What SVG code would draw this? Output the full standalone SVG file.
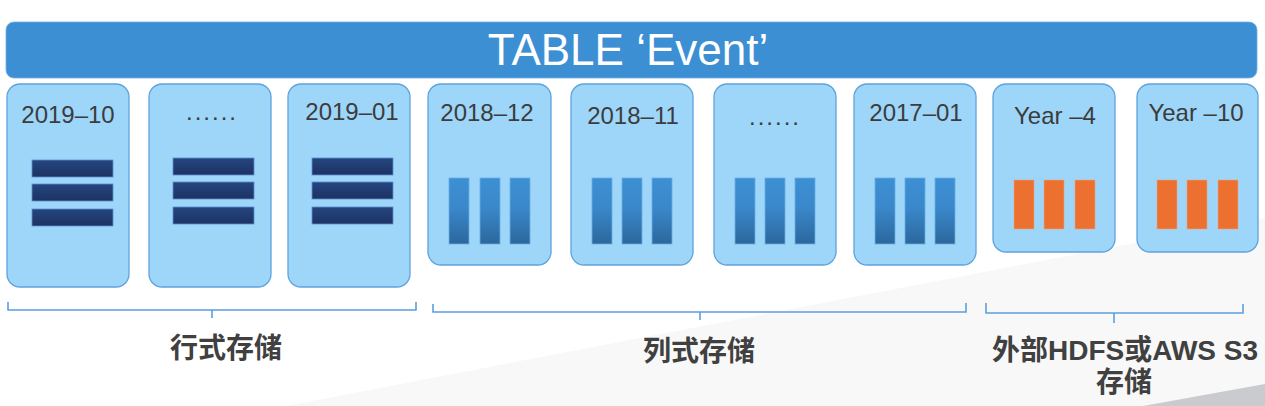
<svg xmlns="http://www.w3.org/2000/svg" width="1265" height="406" viewBox="0 0 1265 406">
<defs>
<linearGradient id="rowG" x1="0" y1="0" x2="0" y2="1"><stop offset="0" stop-color="#25467F"/><stop offset="1" stop-color="#1D3263"/></linearGradient>
<linearGradient id="colG" x1="0" y1="0" x2="0" y2="1"><stop offset="0" stop-color="#3D8FD3"/><stop offset="0.45" stop-color="#3A88CB"/><stop offset="1" stop-color="#2C679C"/></linearGradient>
<linearGradient id="dashG" x1="0" y1="0" x2="1" y2="0"><stop offset="0" stop-color="#D2E6F8"/><stop offset="1" stop-color="#6AAAE4"/></linearGradient>
<style>
.box{fill:#9DD6F9;stroke:#5FA2DC;stroke-width:1.3}
.lbl{font-family:"Liberation Sans",Arial,sans-serif;font-size:24px;fill:#3C3C3C;text-anchor:middle}
.dots{letter-spacing:2px}
.row{fill:url(#rowG);stroke:#5C8FD0;stroke-width:0.8}
.col{fill:url(#colG);stroke:#6AAEE3;stroke-width:0.8}
.ext{fill:#EC7030;stroke:#F2A27A;stroke-width:0.6}
.br{fill:none;stroke:#5B9FDD;stroke-width:1.6}
.cap{font-family:"Liberation Sans","Noto Sans CJK SC",sans-serif;font-size:28px;font-weight:bold;fill:#404040;text-anchor:middle}
</style>
</defs>
<rect width="1265" height="406" fill="#FFFFFF"/>
<polygon points="286,406 1265,218 1265,406" fill="#F8F8F8"/>
<polygon points="1143,406 1265,384 1265,406" fill="#C9CBCE"/>
<line x1="317" y1="0.8" x2="1265" y2="0.8" stroke="url(#dashG)" stroke-width="1.6" stroke-dasharray="4 2"/>

<g id="banner">
<rect x="6" y="22" width="1251" height="56" rx="8" fill="#3D8FD3" stroke="#6FB0E4" stroke-width="0.8"/>
<text x="628" y="65" font-family="'Liberation Sans',Arial,sans-serif" font-size="44" fill="#FFFFFF" text-anchor="middle">TABLE ‘Event’</text>
</g>

<g id="n1"><rect class="box" x="7" y="84" width="122" height="203" rx="13"/><text class="lbl" x="68" y="123">2019–10</text>
<rect class="row" x="32" y="160" width="81" height="17"/><rect class="row" x="32" y="184" width="81" height="17"/><rect class="row" x="32" y="209" width="81" height="17"/></g>
<g id="n2"><rect class="box" x="149" y="84" width="122" height="203" rx="13"/><text class="lbl dots" x="212" y="120">......</text>
<rect class="row" x="173" y="158" width="81" height="17"/><rect class="row" x="173" y="182" width="81" height="17"/><rect class="row" x="173" y="207" width="81" height="17"/></g>
<g id="n3"><rect class="box" x="288" y="84" width="122" height="203" rx="13"/><text class="lbl" x="352" y="120">2019–01</text>
<rect class="row" x="312" y="158" width="81" height="17"/><rect class="row" x="312" y="182" width="81" height="17"/><rect class="row" x="312" y="207" width="81" height="17"/></g>

<g id="n4"><rect class="box" x="428" y="84" width="123" height="181" rx="13"/><text class="lbl" x="487" y="121">2018–12</text>
<rect class="col" x="449" y="178" width="20" height="66"/><rect class="col" x="480" y="178" width="20" height="66"/><rect class="col" x="510" y="178" width="20" height="66"/></g>
<g id="n5"><rect class="box" x="571" y="84" width="122" height="181" rx="13"/><text class="lbl" x="633" y="124">2018–11</text>
<rect class="col" x="592" y="178" width="20" height="66"/><rect class="col" x="622" y="178" width="20" height="66"/><rect class="col" x="652" y="178" width="20" height="66"/></g>
<g id="n6"><rect class="box" x="714" y="84" width="122" height="181" rx="13"/><text class="lbl dots" x="775" y="125">......</text>
<rect class="col" x="735" y="178" width="20" height="66"/><rect class="col" x="765" y="178" width="20" height="66"/><rect class="col" x="795" y="178" width="20" height="66"/></g>
<g id="n7"><rect class="box" x="854" y="84" width="122" height="181" rx="13"/><text class="lbl" x="916" y="121">2017–01</text>
<rect class="col" x="875" y="178" width="20" height="66"/><rect class="col" x="905" y="178" width="20" height="66"/><rect class="col" x="935" y="178" width="20" height="66"/></g>

<g id="n8"><rect class="box" x="993" y="84" width="122" height="168" rx="13"/><text class="lbl" x="1055" y="124">Year –4</text>
<rect class="ext" x="1014" y="180" width="20" height="49"/><rect class="ext" x="1044" y="180" width="20" height="49"/><rect class="ext" x="1075" y="180" width="20" height="49"/></g>
<g id="n9"><rect class="box" x="1137" y="84" width="121" height="168" rx="13"/><text class="lbl" x="1196" y="121">Year –10</text>
<rect class="ext" x="1157" y="180" width="20" height="49"/><rect class="ext" x="1187" y="180" width="20" height="49"/><rect class="ext" x="1218" y="180" width="20" height="49"/></g>

<g id="connectors">
<path class="br" d="M8,302 V310 H416 V302 M212,310 V318"/>
<path class="br" d="M433,304 V312 H966 V303 M700,312 V320"/>
<path class="br" d="M986,303 V313 H1243 V304 M1114,313 V323"/>
</g>

<g id="labels">
<text class="cap" x="226" y="358">行式存储</text>
<text class="cap" x="699" y="361">列式存储</text>
<text class="cap" x="1125" y="360">外部HDFS或AWS S3</text>
<text class="cap" x="1124" y="392">存储</text>
</g>
</svg>
